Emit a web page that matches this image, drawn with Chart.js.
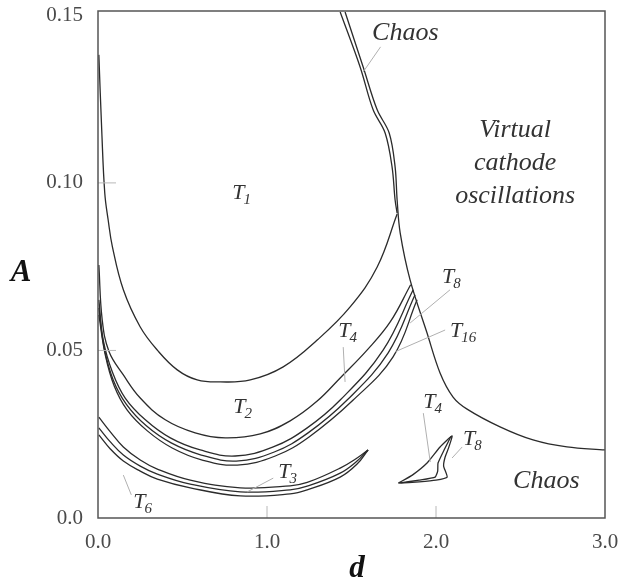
<!DOCTYPE html>
<html><head><meta charset="utf-8">
<script src="https://cdn.jsdelivr.net/npm/chart.js@4/dist/chart.umd.min.js"></script>
<style>html,body{margin:0;padding:0;background:#fff}</style>
</head><body>
<canvas id="c" width="619" height="583"></canvas>
<script>
// ---- axis ticks ----
const xTicks = [0, 1, 2, 3];
const xTickLabels = ["0.0", "1.0", "2.0", "3.0"];
const yTicks = [0, 0.05, 0.10, 0.15];
const yTickLabels = ["0.0", "0.05", "0.10", "0.15"];

// ---- curves (d, A) ----
const t1Boundary = [[0.005,0.1382],[0.022,0.1158],[0.040,0.0970],[0.060,0.0890],[0.085,0.0810],[0.150,0.0681],[0.250,0.0570],[0.351,0.0501],[0.469,0.0442],[0.587,0.0412],[0.723,0.0406],[0.901,0.0412],[1.096,0.0451],[1.297,0.0531],[1.492,0.0630],[1.652,0.0749],[1.770,0.0907]];
const chaosLineLeft = [[1.433,0.1510],[1.551,0.1346],[1.628,0.1218],[1.699,0.1149],[1.740,0.1048],[1.758,0.0949],[1.770,0.0910]];
const chaosLineRight = [[1.462,0.1510],[1.569,0.1346],[1.652,0.1218],[1.723,0.1149],[1.758,0.1048],[1.770,0.0949],[1.788,0.0851],[1.847,0.0710],[1.947,0.0552],[2.024,0.0433],[2.101,0.0361],[2.184,0.0325],[2.379,0.0272],[2.574,0.0233],[2.775,0.0212],[3.0,0.0203]];
const t2Lower = [[0.005,0.0755],[0.025,0.0591],[0.065,0.0497],[0.150,0.0427],[0.250,0.0358],[0.398,0.0293],[0.575,0.0254],[0.753,0.0239],[0.960,0.0251],[1.137,0.0290],[1.297,0.0349],[1.433,0.0418],[1.592,0.0501],[1.729,0.0585],[1.850,0.0696]];
const t4Lower = [[0.005,0.0651],[0.031,0.0531],[0.085,0.0436],[0.161,0.0358],[0.280,0.0293],[0.428,0.0239],[0.605,0.0203],[0.812,0.0185],[1.037,0.0212],[1.238,0.0269],[1.433,0.0352],[1.687,0.0501],[1.865,0.0681]];
const t8Lower = [[0.005,0.0627],[0.037,0.0507],[0.090,0.0412],[0.167,0.0340],[0.286,0.0275],[0.433,0.0224],[0.611,0.0188],[0.818,0.0170],[1.043,0.0197],[1.243,0.0254],[1.474,0.0352],[1.717,0.0493],[1.876,0.0666]];
const t16Lower = [[0.005,0.0606],[0.043,0.0487],[0.096,0.0394],[0.173,0.0322],[0.292,0.0260],[0.439,0.0209],[0.617,0.0173],[0.824,0.0158],[1.049,0.0185],[1.249,0.0242],[1.510,0.0352],[1.746,0.0481],[1.888,0.0651]];
const t3Upper = [[0.005,0.0301],[0.073,0.0257],[0.150,0.0212],[0.250,0.0173],[0.351,0.0146],[0.546,0.0113],[0.842,0.0090],[1.137,0.0096],[1.238,0.0106],[1.433,0.0149],[1.533,0.0179],[1.598,0.0203]];
const t3Middle = [[0.005,0.0269],[0.073,0.0227],[0.150,0.0188],[0.250,0.0155],[0.351,0.0131],[0.546,0.0101],[0.842,0.0078],[1.137,0.0084],[1.238,0.0095],[1.433,0.0134],[1.533,0.0170],[1.598,0.0203]];
const t6Lower = [[0.005,0.0248],[0.073,0.0206],[0.150,0.0170],[0.250,0.0140],[0.351,0.0116],[0.546,0.0090],[0.842,0.0066],[1.137,0.0072],[1.238,0.0084],[1.433,0.0122],[1.533,0.0161],[1.598,0.0203]];
const islandT4 = [[1.777,0.0104],[1.860,0.0128],[1.947,0.0164],[2.024,0.0212],[2.095,0.0245],[2.075,0.0210],[2.054,0.0182],[2.045,0.0155],[2.066,0.0122],[2.000,0.0113],[1.900,0.0108],[1.777,0.0104]];
const islandT8 = [[1.790,0.0105],[1.900,0.0113],[1.995,0.0122],[2.010,0.0140],[2.012,0.0164],[2.050,0.0205],[2.088,0.0243]];

// ---- annotations ----
const regionLabels = [
  {t:"T", s:"1", x:0.795, y:0.0952},
  {t:"T", s:"2", x:0.800, y:0.0313},
  {t:"T", s:"4", x:1.421, y:0.0540},
  {t:"T", s:"8", x:2.036, y:0.0701},
  {t:"T", s:"16", x:2.083, y:0.0540},
  {t:"T", s:"3", x:1.066, y:0.0119},
  {t:"T", s:"6", x:0.209, y:0.0030},
  {t:"T", s:"4", x:1.925, y:0.0328},
  {t:"T", s:"8", x:2.160, y:0.0218}
];
const wordLabels = [
  {text:"Chaos", x:1.622, y:0.1427, align:"left"},
  {text:"Chaos", x:2.456, y:0.0090, align:"left"},
  {text:"Virtual", x:2.468, y:0.1137, align:"center"},
  {text:"cathode", x:2.468, y:0.1039, align:"center"},
  {text:"oscillations", x:2.468, y:0.0940, align:"center"}
];
const pointerLines = [
  [[1.672,0.1406],[1.569,0.1331]],
  [[1.451,0.0510],[1.462,0.0406]],
  [[2.083,0.0681],[1.847,0.0582]],
  [[2.054,0.0561],[1.758,0.0496]],
  [[1.037,0.0119],[0.883,0.0078]],
  [[0.197,0.0069],[0.150,0.0128]],
  [[1.925,0.0313],[1.966,0.0167]],
  [[2.155,0.0212],[2.095,0.0179]]
];

const toPts = a => a.map(p => ({x:p[0], y:p[1]}));
const LINE = '#2b2b2b';
function ds(arr, tension) {
  return {data: toPts(arr), showLine: true, borderColor: LINE, borderWidth: 1.3,
          pointRadius: 0, fill: false, tension: tension};
}

const SERIF = '"Liberation Serif", "DejaVu Serif", serif';

const decor = {
  id: 'decor',
  afterDatasetsDraw(chart) {
    const ctx = chart.ctx, a = chart.chartArea;
    const xs = chart.scales.x, ys = chart.scales.y;
    const X = v => xs.getPixelForValue(v), Y = v => ys.getPixelForValue(v);
    ctx.save();
    // inner tick marks
    ctx.strokeStyle = '#b8b8b8'; ctx.lineWidth = 1;
    [1, 2].forEach(v => { ctx.beginPath(); ctx.moveTo(X(v), a.bottom); ctx.lineTo(X(v), a.bottom - 12); ctx.stroke(); });
    [0.05, 0.10].forEach(v => { ctx.beginPath(); ctx.moveTo(a.left, Y(v)); ctx.lineTo(a.left + 18, Y(v)); ctx.stroke(); });
    // pointer lines
    ctx.strokeStyle = '#b0b0b0'; ctx.lineWidth = 1;
    pointerLines.forEach(l => { ctx.beginPath(); ctx.moveTo(X(l[0][0]), Y(l[0][1])); ctx.lineTo(X(l[1][0]), Y(l[1][1])); ctx.stroke(); });
    // frame
    ctx.strokeStyle = '#555'; ctx.lineWidth = 1.5;
    ctx.strokeRect(a.left, a.top, a.right - a.left, a.bottom - a.top);
    // region labels
    ctx.fillStyle = '#333'; ctx.textBaseline = 'alphabetic';
    regionLabels.forEach(l => {
      ctx.textAlign = 'left';
      ctx.font = 'italic 22px ' + SERIF;
      const px = X(l.x), py = Y(l.y);
      ctx.fillText(l.t, px, py);
      const w = ctx.measureText(l.t).width;
      ctx.font = 'italic 15px ' + SERIF;
      ctx.fillText(l.s, px + w - 1, py + 5);
    });
    ctx.font = 'italic 26px ' + SERIF;
    wordLabels.forEach(l => { ctx.textAlign = l.align; ctx.fillText(l.text, X(l.x), Y(l.y)); });
    // axis titles
    ctx.fillStyle = '#111';
    ctx.font = 'bold italic 31px ' + SERIF;
    ctx.textAlign = 'center';
    ctx.fillText('A', 21, 281);
    ctx.fillText('d', 357, 577);
    ctx.restore();
  }
};

new Chart(document.getElementById('c'), {
  type: 'scatter',
  data: { datasets: [
    ds(t1Boundary, 0.4), ds(chaosLineLeft, 0.35), ds(chaosLineRight, 0.35),
    ds(t2Lower, 0.4), ds(t4Lower, 0.4), ds(t8Lower, 0.4), ds(t16Lower, 0.4),
    ds(t3Upper, 0.4), ds(t3Middle, 0.4), ds(t6Lower, 0.4),
    ds(islandT4, 0.15), ds(islandT8, 0.15)
  ]},
  options: {
    responsive: false, animation: false, devicePixelRatio: 1,
    layout: { padding: { top: 11, right: 14, left: 0, bottom: 0 } },
    plugins: { legend: {display: false}, tooltip: {enabled: false} },
    scales: {
      x: {
        type: 'linear', min: 0, max: 3,
        afterBuildTicks: s => { s.ticks = xTicks.map(v => ({value: v})); },
        afterFit: s => { s.height = 65; s.paddingLeft = 0; s.paddingRight = 0; },
        grid: {display: false, drawTicks: false}, border: {display: false},
        ticks: { autoSkip: false, maxRotation: 0, padding: 12, color: '#4a4a4a',
                 font: {family: SERIF, size: 21},
                 callback: (v, i) => xTickLabels[i] }
      },
      y: {
        type: 'linear', min: 0, max: 0.1513,
        afterBuildTicks: s => { s.ticks = yTicks.map(v => ({value: v})); },
        afterFit: s => { s.width = 98; s.paddingTop = 0; s.paddingBottom = 0; },
        grid: {display: false, drawTicks: false}, border: {display: false},
        ticks: { autoSkip: false, padding: 15, color: '#4a4a4a',
                 font: {family: SERIF, size: 21},
                 callback: (v, i) => yTickLabels[i] }
      }
    }
  },
  plugins: [decor]
});
</script>
</body></html>
